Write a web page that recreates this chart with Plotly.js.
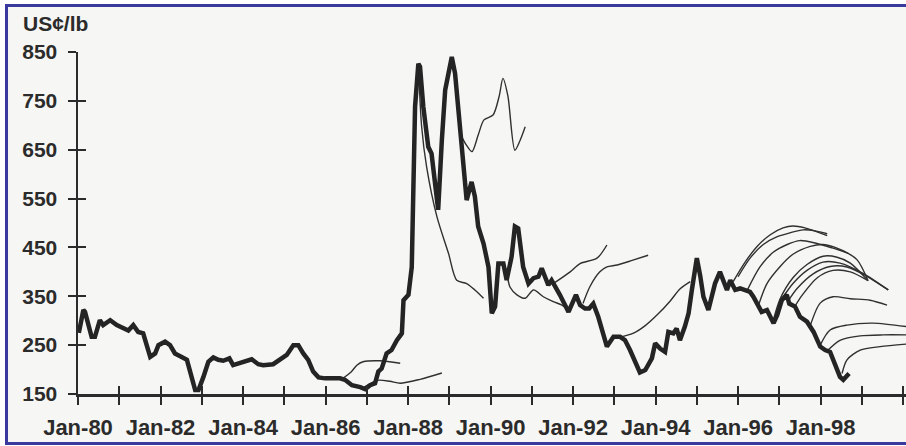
<!DOCTYPE html>
<html>
<head>
<meta charset="utf-8">
<script src="https://cdn.plot.ly/plotly-3.0.1.min.js"></script>
<style>
  html, body { margin: 0; padding: 0; background: #ffffff; width: 906px; height: 446px; overflow: hidden; }
  #frame { position: absolute; left: 5px; top: 4px; width: 1000px; height: 441px; box-sizing: border-box;
           border-top: 3px solid #3a3a9e; border-left: 3px solid #3a3a9e; border-bottom: 3px solid #3a3a9e;
           background: #f6f6f4; }
  #chart { position: absolute; left: 0; top: 0; width: 906px; height: 446px; }
</style>
</head>
<body>
<div id="frame"></div>
<div id="chart"></div>
<script>
// Historical monthly price (US cents per lb), decimal years
const histX = [1980.02,1980.13,1980.17,1980.33,1980.41,1980.53,1980.61,1980.78,1980.94,1981.10,
  1981.22,1981.34,1981.46,1981.58,1981.75,1981.87,1981.95,1982.11,1982.23,1982.35,
  1982.51,1982.64,1982.84,1982.92,1983.04,1983.16,1983.28,1983.40,1983.52,1983.67,
  1983.76,1983.93,1984.21,1984.37,1984.49,1984.73,1984.90,1985.06,1985.22,1985.34,
  1985.46,1985.58,1985.70,1985.83,1985.99,1986.15,1986.35,1986.47,1986.64,1986.84,
  1986.96,1987.08,1987.20,1987.28,1987.36,1987.48,1987.60,1987.73,1987.85,1987.89,
  1988.01,1988.09,1988.13,1988.17,1988.25,1988.29,1988.37,1988.49,1988.57,1988.70,
  1988.73,1988.82,1988.90,1988.98,1989.06,1989.14,1989.26,1989.34,1989.42,1989.54,
  1989.62,1989.70,1989.83,1989.95,1990.03,1990.11,1990.19,1990.31,1990.39,1990.51,
  1990.59,1990.67,1990.79,1990.92,1991.04,1991.16,1991.24,1991.32,1991.40,1991.48,
  1991.56,1991.68,1991.89,1991.97,1992.07,1992.17,1992.29,1992.39,1992.49,1992.61,
  1992.82,1992.98,1993.14,1993.26,1993.38,1993.62,1993.75,1993.91,1993.99,1994.11,
  1994.23,1994.31,1994.43,1994.51,1994.59,1994.71,1994.80,1994.88,1995.00,1995.08,
  1995.16,1995.28,1995.36,1995.44,1995.56,1995.64,1995.73,1995.81,1995.93,1996.05,
  1996.17,1996.29,1996.37,1996.45,1996.57,1996.70,1996.86,1996.95,1997.06,1997.18,
  1997.24,1997.38,1997.50,1997.67,1997.83,1997.99,1998.11,1998.23,1998.35,1998.47,
  1998.55,1998.64,1998.69];
const histY = [275,322,318,267,267,301,291,301,291,286,
  280,291,277,274,226,233,250,257,250,233,
  226,220,158,158,185,216,225,220,218,223,
  209,213,221,211,209,211,220,230,250,250,
  233,220,196,184,182,182,182,179,168,164,
  160,168,172,196,202,233,240,260,274,342,
  353,410,601,738,826,820,738,656,642,533,
  527,670,772,806,840,806,683,601,547,584,
  554,493,458,410,315,329,417,417,383,431,
  493,489,410,376,387,390,407,390,373,383,
  369,353,318,335,353,332,325,325,335,308,
  247,267,267,260,240,194,199,223,254,243,
  236,277,274,284,260,288,315,363,428,393,
  349,322,349,376,400,383,363,383,363,366,
  363,359,349,335,318,322,295,312,342,353,
  335,329,308,298,277,247,240,236,213,185,
  179,186,192];

// Forecast paths (thin lines)
const fc1X = [1986.42,1986.62,1986.76,1986.91,1987.32,1987.81];
const fc1Y = [182,195,209,216,218,213];
const fc2X = [1986.96,1987.25,1987.56,1987.81,1988.29,1988.82];
const fc2Y = [165,178,176,172,180,193];
const fc3X = [1988.25,1988.33,1988.45,1988.70,1988.98,1989.18,1989.42,1989.62,1989.83];
const fc3Y = [826,697,615,513,438,383,376,363,346];
const fc4X = [1989.26,1989.41,1989.55,1989.70,1989.84,1990.06,1990.21,1990.30,1990.42,1990.59,1990.72,1990.84];
const fc4Y = [683,660,646,680,711,721,760,796,760,649,670,697];
const fc5X = [1990.23,1990.35,1990.47,1990.64,1990.84,1991.04,1991.28,1991.52,1991.73,1991.89];
const fc5Y = [417,410,369,353,346,363,349,339,332,322];
const fc6X = [1991.52,1991.93,1992.17,1992.58,1992.82];
const fc6Y = [376,400,417,428,455];
const fc7X = [1992.24,1992.41,1992.65,1992.82,1993.07,1993.45,1993.82];
const fc7Y = [335,370,400,410,414,424,434];
const fc8X = [1993.16,1993.45,1993.75,1994.04,1994.35,1994.59,1994.84];
const fc8Y = [267,274,290,312,340,365,380];
const fc9X = [1995.88,1996.17,1996.46,1996.78,1997.09,1997.33,1997.62,1998.16];
const fc9Y = [380,420,452,476,490,494,490,474];
const fc10X = [1996.00,1996.29,1996.61,1996.95,1997.26,1997.58,1997.87,1998.16];
const fc10Y = [390,428,456,472,480,486,484,478];
const fc11X = [1996.22,1996.53,1996.85,1997.19,1997.50,1997.87,1998.28,1998.67];
const fc11Y = [362,410,440,456,464,459,449,438];
const fc12X = [1996.48,1996.70,1997.02,1997.33,1997.75,1998.06,1998.47,1998.88,1999.15];
const fc12Y = [328,376,411,436,452,456,446,425,382];
const fc13X = [1996.85,1997.02,1997.33,1997.67,1998.06,1998.40,1998.72,1999.15];
const fc13Y = [300,345,388,415,432,430,418,382];
const fc14X = [1997.04,1997.33,1997.67,1998.06,1998.47,1999.03,1999.64];
const fc14Y = [342,376,403,420,418,397,363];
const fc15X = [1997.21,1997.43,1997.82,1998.23,1998.64,1999.10,1999.64];
const fc15Y = [340,366,396,411,410,392,363];
const fc16X = [1997.38,1997.55,1997.92,1998.30,1998.72,1999.15];
const fc16Y = [330,352,388,403,400,382];
const fc17X = [1997.75,1997.99,1998.30,1998.72,1999.20,1999.61];
const fc17Y = [290,336,349,345,342,332];
const fc18X = [1997.99,1998.23,1998.64,1999.27,2000.07];
const fc18Y = [250,281,291,295,288];
const fc19X = [1998.18,1998.47,1998.96,1999.52,2000.07];
const fc19Y = [240,260,269,271,271];
const fc20X = [1998.52,1998.64,1998.96,1999.44,2000.07];
const fc20Y = [192,220,240,247,252];

const yearTicks = [1980,1981,1982,1983,1984,1985,1986,1987,1988,1989,1990,1991,1992,1993,1994,1995,1996,1997,1998,1999,2000];
const yearLabels = ['Jan-80','','Jan-82','','Jan-84','','Jan-86','','Jan-88','','Jan-90','','Jan-92','','Jan-94','','Jan-96','','Jan-98','',''];
const priceTicks = [150,250,350,450,550,650,750,850];
const unitLabel = 'US¢/lb';

const forecasts = [
  [fc1X,fc1Y],[fc2X,fc2Y],[fc3X,fc3Y],[fc4X,fc4Y],[fc5X,fc5Y],[fc6X,fc6Y],[fc7X,fc7Y],[fc8X,fc8Y],
  [fc9X,fc9Y],[fc10X,fc10Y],[fc11X,fc11Y],[fc12X,fc12Y],[fc13X,fc13Y],[fc14X,fc14Y],[fc15X,fc15Y],
  [fc16X,fc16Y],[fc17X,fc17Y],[fc18X,fc18Y],[fc19X,fc19Y],[fc20X,fc20Y]
];

const ink = '#2b2b2b';
const traces = forecasts.map(([x, y]) => ({
  x: x, y: y, type: 'scatter', mode: 'lines',
  line: { color: '#303030', width: 1.4, shape: 'spline', smoothing: 0.8 },
  hoverinfo: 'skip', showlegend: false
}));
traces.push({
  x: histX, y: histY, type: 'scatter', mode: 'lines',
  line: { color: '#242424', width: 4.5, shape: 'linear' },
  hoverinfo: 'skip', showlegend: false
});
// carrier trace for the overlay axes that draw the inner half of the crossing ticks
traces.push({ x: [histX[0]], y: [histY[0]], xaxis: 'x2', yaxis: 'y2', type: 'scatter', mode: 'markers',
  marker: { opacity: 0 }, hoverinfo: 'skip', showlegend: false });

const tickFont = { family: 'Liberation Sans, Arial, sans-serif', size: 21, color: ink, weight: 'bold' };
const xr = [1980, 2000.07];
const yr = [150, 850];

const layout = {
  width: 906, height: 446,
  margin: { l: 78, r: 0, t: 52, b: 52 },
  paper_bgcolor: 'rgba(0,0,0,0)', plot_bgcolor: 'rgba(0,0,0,0)',
  showlegend: false,
  xaxis: {
    range: xr, tickmode: 'array', tickvals: yearTicks, ticktext: yearLabels,
    ticks: 'outside', ticklen: 8, tickwidth: 2, tickcolor: ink,
    showline: true, linewidth: 2.5, linecolor: ink, showgrid: false, zeroline: false,
    tickfont: Object.assign({}, tickFont, { size: 22 }), ticklabelstandoff: 4
  },
  yaxis: {
    range: yr, tickmode: 'array', tickvals: priceTicks,
    ticks: 'outside', ticklen: 8, tickwidth: 2, tickcolor: ink,
    showline: true, linewidth: 2.5, linecolor: ink, showgrid: false, zeroline: false,
    tickfont: tickFont, ticklabelstandoff: 6
  },
  xaxis2: {
    range: xr, overlaying: 'x', anchor: 'y2', side: 'bottom', tickmode: 'array', tickvals: yearTicks,
    ticks: 'inside', ticklen: 8, tickwidth: 2, tickcolor: ink, showticklabels: false,
    showline: false, showgrid: false, zeroline: false
  },
  yaxis2: {
    range: yr, overlaying: 'y', anchor: 'x2', side: 'left', tickmode: 'array', tickvals: priceTicks,
    ticks: 'inside', ticklen: 8, tickwidth: 2, tickcolor: ink, showticklabels: false,
    showline: false, showgrid: false, zeroline: false
  },
  annotations: [{
    text: unitLabel, xref: 'paper', yref: 'paper', x: -0.069, y: 1.082,
    xanchor: 'left', yanchor: 'middle', showarrow: false,
    font: { family: 'Liberation Sans, Arial, sans-serif', size: 21, color: ink, weight: 'bold' }
  }]
};

Plotly.newPlot('chart', traces, layout, { staticPlot: true, displayModeBar: false });
</script>
</body>
</html>
